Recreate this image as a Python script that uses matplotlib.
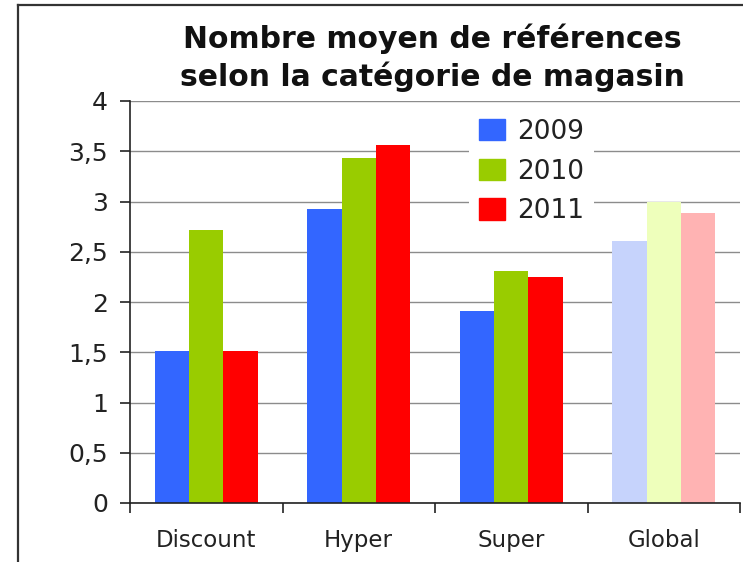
import matplotlib
matplotlib.use("Agg")
import matplotlib.pyplot as plt
from matplotlib.lines import Line2D
import numpy as np

categories = ["Discount", "Hyper", "Super", "Global"]
years = ["2009", "2010", "2011"]
v2009 = [1.51, 2.93, 1.91, 2.61]
v2010 = [2.72, 3.43, 2.31, 3.00]
v2011 = [1.51, 3.56, 2.25, 2.89]

ytick_vals = [0, 0.5, 1, 1.5, 2, 2.5, 3, 3.5, 4]
ytick_labels = ["0", "0,5", "1", "1,5", "2", "2,5", "3", "3,5", "4"]

colors = ["#3366ff", "#99cc00", "#ff0000"]
# the "Global" group is drawn in paler tints
pale = ["#c6d3fc", "#eeffbb", "#ffb3b3"]

plt.rcParams['font.family'] = ['DejaVu Sans']

fig = plt.figure(figsize=(7.43, 5.62), dpi=100)
ax = fig.add_axes([130 / 743, 1 - 503 / 562, 610 / 743, 402 / 562])

x = np.arange(len(categories)) + 0.5
w = 0.225
series = [v2009, v2010, v2011]
for i, vals in enumerate(series):
    cols = [colors[i]] * (len(categories) - 1) + [pale[i]]
    ax.bar(x + (i - 1) * w, vals, width=w, color=cols, zorder=2)

ax.set_xlim(0, 4)
ax.set_ylim(0, 4)
ax.set_yticks(ytick_vals)
ax.set_yticklabels(ytick_labels)
ax.yaxis.grid(True, color="#8c8c8c", linewidth=1.0, zorder=0)
ax.set_axisbelow(True)

ax.set_xticks([0, 1, 2, 3, 4])
ax.set_xticklabels([])
ax.set_xticks(x, minor=True)
ax.set_xticklabels(categories, minor=True)
ax.tick_params(axis="x", which="major", length=7, width=1.2, color="#222222", direction="out")
ax.tick_params(axis="x", which="minor", length=0, pad=19, labelsize=16.5, labelcolor="#222222")
ax.tick_params(axis="y", length=7, width=1.2, color="#222222", pad=9, labelsize=18, labelcolor="#222222")

for s in ["top", "right"]:
    ax.spines[s].set_visible(False)
for s in ["left", "bottom"]:
    ax.spines[s].set_color("#222222")
    ax.spines[s].set_linewidth(1.2)

handles = [plt.Rectangle((0, 0), 1, 1, color=c) for c in colors]
leg = ax.legend(handles, years, loc="upper left", bbox_to_anchor=(0.555, 0.982),
                fontsize=19, frameon=True, facecolor="white", edgecolor="none", framealpha=1,
                handlelength=0.98, handleheight=0.87, handletextpad=0.45, labelspacing=0.52,
                borderpad=0.4, borderaxespad=0, fancybox=False)
for t in leg.get_texts():
    t.set_color("#222222")

fig.text(432 / 743, 1 - 58 / 562, "Nombre moyen de références\nselon la catégorie de magasin",
         ha="center", va="center", fontsize=21.5, fontweight="bold", linespacing=1.3, color="#111111")

# outer frame of the original picture (cut at right and bottom)
fig.add_artist(Line2D([18 / 743, 1.0], [1 - 5 / 562, 1 - 5 / 562], color="#333333", linewidth=1.6))
fig.add_artist(Line2D([18 / 743, 18 / 743], [0.0, 1 - 5 / 562], color="#333333", linewidth=1.6))

fig.savefig("out.png", dpi=100)
